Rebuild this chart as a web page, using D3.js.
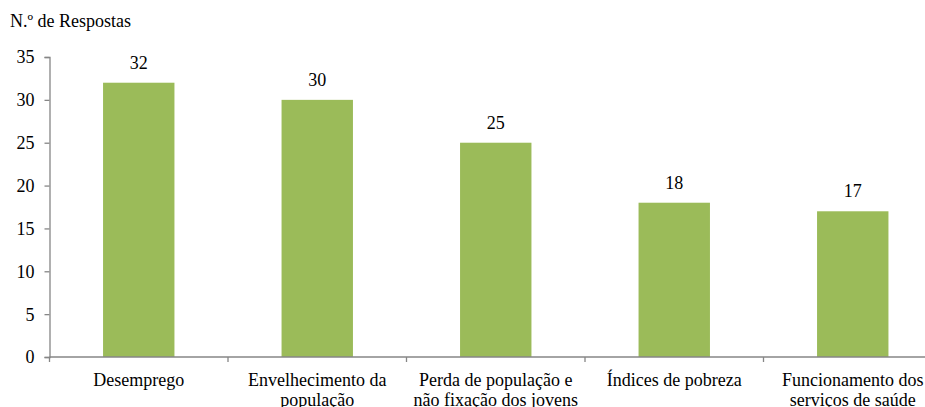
<!DOCTYPE html>
<html><head><meta charset="utf-8">
<script src="https://cdn.jsdelivr.net/npm/d3@7"></script>
<style>body{margin:0;background:#fff}svg{display:block}text{font-family:"Liberation Serif","Times New Roman",serif;fill:#000}</style>
</head><body><svg id="c" width="925" height="407"></svg>
<script>
const categories = [["Desemprego"],["Envelhecimento da","população"],["Perda de população e","não fixação dos jovens"],["Índices de pobreza"],["Funcionamento dos","serviços de saúde"]];
const values = [32,30,25,18,17];
const yTicks = [0,5,10,15,20,25,30,35];
const yTitle = "N.º de Respostas";

const FS = 18, FF = "Liberation Serif, Times New Roman, serif";
const svg = d3.select("#c");
const x0 = 49.5, bandW = 178.5, yBase = 357, yTop = 57;
const idx = d3.range(values.length);
const x = d3.scaleBand().domain(idx).range([x0, x0 + bandW*values.length]).paddingInner(0.6).paddingOuter(0.3);
const y = d3.scaleLinear().domain([0,35]).range([yBase, yTop]);
const axisColor = "#868686";

svg.append("text").attr("x",10).attr("y",27).attr("font-size",FS).attr("font-family",FF).text(yTitle);

// y axis
const ya = svg.append("g").attr("transform",`translate(${x0},0)`)
  .call(d3.axisLeft(y).tickValues(yTicks).tickSize(5).tickPadding(10));
ya.attr("font-family",FF).attr("font-size",FS);
ya.select(".domain").attr("stroke",axisColor).attr("stroke-width",1.3);
ya.selectAll(".tick line").attr("stroke",axisColor).attr("stroke-width",1.3);
ya.selectAll(".tick text").attr("font-size",FS).attr("font-family",FF).attr("fill","#000").attr("dy","0.33em");

// bars
svg.selectAll("rect.bar").data(values).join("rect").attr("class","bar")
  .attr("x",(d,i)=>x(i)).attr("width",x.bandwidth())
  .attr("y",d=>y(d)).attr("height",d=>yBase-y(d)).attr("fill","#9BBB59");

// value labels
svg.selectAll("text.val").data(values).join("text").attr("class","val")
  .attr("x",(d,i)=>x(i)+x.bandwidth()/2).attr("y",d=>y(d)-14)
  .attr("text-anchor","middle").attr("font-size",FS).attr("font-family",FF).text(d=>d);

// x axis
const g = svg.append("g");
g.append("line").attr("x1",x0).attr("x2",x0+bandW*values.length).attr("y1",yBase).attr("y2",yBase)
  .attr("stroke",axisColor).attr("stroke-width",1.3);
d3.range(values.length+1).forEach(i=>{
  g.append("line").attr("x1",x0+bandW*i).attr("x2",x0+bandW*i).attr("y1",yBase).attr("y2",yBase+5)
   .attr("stroke",axisColor).attr("stroke-width",1.3);
});
categories.forEach((lines,i)=>{
  const t = svg.append("text").attr("text-anchor","middle").attr("font-size",FS).attr("font-family",FF)
    .attr("x",x(i)+x.bandwidth()/2).attr("y",386);
  lines.forEach((l,j)=>t.append("tspan").attr("x",x(i)+x.bandwidth()/2).attr("dy",j?20:0).text(l));
});
</script></body></html>
